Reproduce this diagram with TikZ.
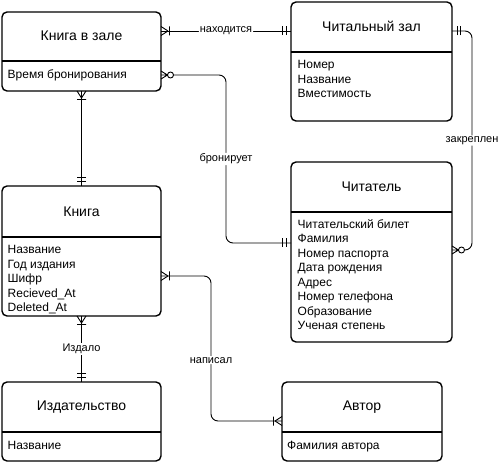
\documentclass[tikz,border=0pt]{standalone}
\usepackage{fontspec}
\setmainfont{Liberation Sans}
\usetikzlibrary{calc}

% ER end markers
\pgfdeclarearrow{
  name=crowbar,
  setup code={
    \pgfarrowssettipend{0pt}
    \pgfarrowssetlineend{0pt}
    \pgfarrowssetbackend{-10pt}
    \pgfarrowshullpoint{0pt}{5pt}
    \pgfarrowshullpoint{0pt}{-5pt}
    \pgfarrowshullpoint{-10pt}{5pt}
    \pgfarrowshullpoint{-10pt}{-5pt}
  },
  drawing code={
    \pgfpathmoveto{\pgfpoint{0pt}{4.5pt}}
    \pgfpathlineto{\pgfpoint{-7pt}{0pt}}
    \pgfpathmoveto{\pgfpoint{0pt}{-4.5pt}}
    \pgfpathlineto{\pgfpoint{-7pt}{0pt}}
    \pgfpathmoveto{\pgfpoint{-8.5pt}{4.5pt}}
    \pgfpathlineto{\pgfpoint{-8.5pt}{-4.5pt}}
    \pgfusepathqstroke
  }
}
\pgfdeclarearrow{
  name=twobar,
  setup code={
    \pgfarrowssettipend{0pt}
    \pgfarrowssetlineend{0pt}
    \pgfarrowssetbackend{-10pt}
    \pgfarrowshullpoint{0pt}{5pt}
    \pgfarrowshullpoint{0pt}{-5pt}
    \pgfarrowshullpoint{-10pt}{5pt}
    \pgfarrowshullpoint{-10pt}{-5pt}
  },
  drawing code={
    \pgfpathmoveto{\pgfpoint{-5pt}{4.5pt}}
    \pgfpathlineto{\pgfpoint{-5pt}{-4.5pt}}
    \pgfpathmoveto{\pgfpoint{-8.5pt}{4.5pt}}
    \pgfpathlineto{\pgfpoint{-8.5pt}{-4.5pt}}
    \pgfusepathqstroke
  }
}
\pgfdeclarearrow{
  name=crowring,
  setup code={
    \pgfarrowssettipend{0pt}
    \pgfarrowssetlineend{-12.5pt}
    \pgfarrowssetbackend{-13pt}
    \pgfarrowshullpoint{0pt}{5pt}
    \pgfarrowshullpoint{0pt}{-5pt}
    \pgfarrowshullpoint{-13pt}{3pt}
    \pgfarrowshullpoint{-13pt}{-3pt}
  },
  drawing code={
    \pgfpathmoveto{\pgfpoint{0pt}{4pt}}
    \pgfpathlineto{\pgfpoint{-6.5pt}{0pt}}
    \pgfpathmoveto{\pgfpoint{0pt}{-4pt}}
    \pgfpathlineto{\pgfpoint{-6.5pt}{0pt}}
    \pgfpathmoveto{\pgfpoint{0pt}{0pt}}
    \pgfpathlineto{\pgfpoint{-6.5pt}{0pt}}
    \pgfpathcircle{\pgfpoint{-9.5pt}{0pt}}{3pt}
    \pgfusepathqstroke
  }
}

\begin{document}
\begin{tikzpicture}[x=1pt,y=-1pt,
  entity/.style={draw,line width=1.4pt,rounded corners=5pt,inner sep=0pt,outer sep=0pt},
  split/.style={line width=1.4pt},
  enttitle/.style={font=\fontsize{14}{16}\selectfont,anchor=base,inner sep=0pt},
  attr/.style={font=\fontsize{12}{14}\selectfont,anchor=base west,inner sep=0pt},
  rel/.style={line width=0.9pt,rounded corners=7pt},
  lbl/.style={font=\fontsize{11}{13}\selectfont,fill=white,inner sep=1pt}]
\useasboundingbox (0,0) rectangle (498,462);

% Книга в зале
\node[entity,minimum width=159pt,minimum height=79pt] (kz) at (81.5,51.5) {};
\draw[split] (kz.west |- 0,61) -- (kz.east |- 0,61);
\node[enttitle] (kz-t) at (81.5,41) {Книга в зале};
\node[attr] (kz-a1) at (7.5,78.5) {Время бронирования};

% Читальный зал
\node[entity,minimum width=161pt,minimum height=119pt] (zal) at (371.5,61.5) {};
\draw[split] (zal.west |- 0,52) -- (zal.east |- 0,52);
\node[enttitle] (zal-t) at (371.5,31.5) {Читальный зал};
\foreach \t [count=\i] in {Номер,Название,Вместимость}
  \node[attr] (zal-a\i) at (297.5,54.5+14.5*\i) {\t};

% Читатель
\node[entity,minimum width=161pt,minimum height=180pt] (chit) at (371.5,252) {};
\draw[split] (chit.west |- 0,212) -- (chit.east |- 0,212);
\node[enttitle] (chit-t) at (371.5,191.5) {Читатель};
\foreach \t [count=\i] in {Читательский билет,Фамилия,Номер паспорта,Дата рождения,Адрес,Номер телефона,Образование,Ученая степень}
  \node[attr] (chit-a\i) at (297.5,213.8+14.5*\i) {\t};

% Книга
\node[entity,minimum width=159pt,minimum height=130pt] (kniga) at (81.5,251) {};
\draw[split] (kniga.west |- 0,237) -- (kniga.east |- 0,237);
\node[enttitle] (kniga-t) at (81.5,216.5) {Книга};
\foreach \t [count=\i] in {Название,Год издания,Шифр,Recieved\_At,Deleted\_At}
  \node[attr] (kniga-a\i) at (7.5,239.5+14.5*\i) {\t};

% Издательство
\node[entity,minimum width=159pt,minimum height=79pt] (izd) at (81.5,421.5) {};
\draw[split] (izd.west |- 0,432) -- (izd.east |- 0,432);
\node[enttitle] (izd-t) at (81.5,410) {Издательство};
\node[attr] (izd-a1) at (7.5,449) {Название};

% Автор
\node[entity,minimum width=160pt,minimum height=79pt] (avtor) at (362,421.5) {};
\draw[split] (avtor.west |- 0,432) -- (avtor.east |- 0,432);
\node[enttitle] (avtor-t) at (362,410) {Автор};
\node[attr] (avtor-a1) at (287,449) {Фамилия автора};

% связи
\draw[rel,crowbar-twobar] ([yshift=-19pt]kz.north east) -- node[lbl]{находится} ([yshift=-29pt]zal.north west);
\draw[rel,crowring-twobar] ([yshift=-63pt]kz.north east) -| ($([yshift=-63pt]kz.north east)!0.5!([yshift=-81pt]chit.north west)$) node[lbl]{бронирует} |- ([yshift=-81pt]chit.north west);
\draw[rel,twobar-crowring] ([yshift=-29pt]zal.north east) -- ([xshift=20pt,yshift=-29pt]zal.north east) |- node[lbl,pos=0.25]{закреплен} ([yshift=-88pt]chit.north east);
\draw[rel,crowbar-twobar] (kz.south) -- (kniga.north);
\draw[rel,crowbar-crowbar] ([yshift=-90pt]kniga.north east) -- ([xshift=50pt,yshift=-90pt]kniga.north east) |- node[lbl,pos=0.29]{написал} ([yshift=-39pt]avtor.north west);
\draw[rel,crowbar-twobar] (kniga.south) -- node[lbl]{Издало} (izd.north);
\end{tikzpicture}
\end{document}
